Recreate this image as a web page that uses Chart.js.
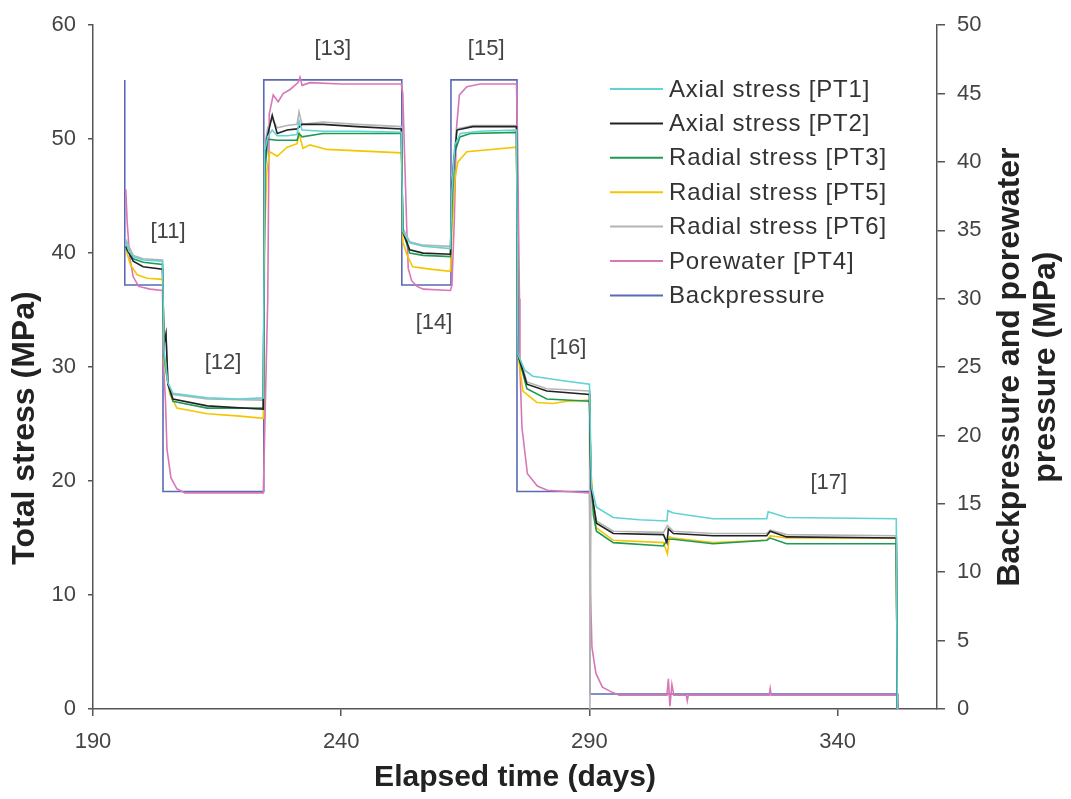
<!DOCTYPE html>
<html>
<head>
<meta charset="utf-8">
<script src="https://cdn.jsdelivr.net/npm/chart.js@4.4.1/dist/chart.umd.min.js"></script>
<style>
  html, body { margin: 0; background: #fff; }
</style>
</head>
<body>
<canvas id="myChart" width="1071" height="799"></canvas>
<script>
// tick labels on the time axis
const xTicks = [190, 240, 290, 340];

const seriesLabels = [
    'Axial stress [PT1]',
    'Axial stress [PT2]',
    'Radial stress [PT3]',
    'Radial stress [PT5]',
    'Radial stress [PT6]',
    'Porewater [PT4]',
    'Backpressure'
];

// [day, MPa], total stress on the left axis
const axialPT1 = [
    [196.6, 41.0], [197.2, 40.2], [198.1, 39.7], [200.1, 39.4], [204.0, 39.3],
    [204.3, 31.5], [205.1, 28.6], [206.1, 27.7], [213.0, 27.3], [219.6, 27.2], [224.3, 27.3],
    [224.6, 49.0], [225.2, 50.2], [226.1, 50.8], [227.1, 50.3], [229.1, 50.3], [231.1, 50.4], [231.5, 51.6], [232.1, 50.8], [236.3, 50.7], [243.2, 50.7], [252.1, 50.6],
    [252.4, 41.9], [253.8, 40.9], [256.5, 40.6], [262.0, 40.4],
    [262.3, 45.5], [262.9, 49.5], [264.0, 50.5], [268.0, 50.7], [275.3, 50.8],
    [275.6, 31.1], [277.0, 29.7], [278.6, 29.2], [284.7, 28.8], [290.0, 28.5],
    [290.4, 19.5], [291.4, 17.7], [294.8, 16.8], [300.0, 16.6], [305.6, 16.5], [305.8, 17.4], [306.9, 17.2], [314.9, 16.7], [325.7, 16.7], [326.0, 17.3], [329.7, 16.8], [351.8, 16.7], [352.0, 0]
];
const axialPT2 = [
    [196.6, 40.6], [198.1, 39.3], [200.1, 38.8], [204.0, 38.6],
    [204.3, 32.0], [204.7, 32.9], [205.1, 28.5], [206.1, 27.2], [213.0, 26.6], [224.3, 26.3],
    [224.6, 48.0], [225.0, 50.0], [226.1, 52.1], [227.1, 50.5], [229.1, 50.8], [231.1, 50.9], [232.1, 51.3], [236.3, 51.3], [243.2, 51.1], [252.1, 50.9],
    [252.4, 41.9], [253.8, 40.3], [256.5, 40.0], [262.0, 39.9],
    [262.3, 46.0], [263.3, 50.8], [266.5, 51.1], [275.3, 51.1],
    [275.6, 31.1], [277.4, 28.5], [281.4, 27.9], [290.0, 27.6],
    [290.3, 19.5], [291.4, 16.3], [294.8, 15.4], [304.9, 15.3], [305.6, 14.6], [305.9, 15.8], [306.9, 15.4], [314.9, 15.2], [325.7, 15.2], [326.4, 15.6], [329.7, 15.1], [351.8, 15.0], [352.0, 0]
];
const radialPT3 = [
    [196.6, 40.4], [198.1, 39.5], [200.1, 39.2], [204.0, 39.0],
    [204.3, 31.0], [205.1, 28.5], [206.1, 27.0], [213.0, 26.4], [224.3, 26.4],
    [224.6, 47.0], [225.2, 50.0], [227.1, 49.9], [229.1, 49.9], [231.1, 49.9], [231.5, 50.5], [232.1, 50.2], [236.3, 50.5], [243.2, 50.5], [252.1, 50.5],
    [252.4, 41.9], [253.8, 40.0], [256.5, 39.8], [262.0, 39.7],
    [262.3, 44.0], [262.9, 48.9], [263.9, 50.2], [266.0, 50.5], [275.3, 50.6],
    [275.6, 31.1], [277.4, 28.1], [281.4, 27.2], [290.0, 27.0],
    [290.3, 20.3], [290.8, 17.0], [291.4, 15.6], [294.8, 14.6], [304.9, 14.3], [305.7, 14.9], [306.9, 14.9], [314.9, 14.5], [325.7, 14.8], [326.4, 15.0], [329.7, 14.5], [351.8, 14.5], [352.0, 0]
];
const radialPT5 = [
    [196.6, 40.4], [197.5, 39.0], [198.9, 38.1], [200.9, 37.8], [204.0, 37.7],
    [204.3, 30.5], [205.5, 27.6], [206.9, 26.4], [213.0, 25.9], [219.6, 25.7], [224.3, 25.5],
    [224.6, 42.0], [225.0, 47.2], [225.6, 48.9], [227.1, 48.5], [229.1, 49.3], [231.1, 49.6], [231.5, 50.5], [232.3, 49.2], [233.7, 49.5], [237.1, 49.1], [252.1, 48.8],
    [252.4, 41.0], [253.2, 39.9], [254.4, 38.8], [257.9, 38.6], [262.0, 38.4],
    [262.3, 42.0], [262.9, 46.5], [263.5, 48.0], [265.3, 48.9], [275.3, 49.3],
    [275.6, 31.1], [276.6, 27.9], [279.4, 26.9], [282.6, 26.8], [285.5, 27.0], [290.0, 27.1],
    [290.3, 20.9], [290.8, 17.5], [291.4, 15.9], [294.8, 14.8], [304.9, 14.6], [305.7, 13.6], [306.1, 15.1], [306.9, 15.0], [314.9, 14.6], [325.7, 14.8], [326.4, 15.2], [329.7, 15.0], [351.8, 15.0], [352.0, 0]
];
const radialPT6 = [
    [196.6, 41.2], [198.1, 39.8], [200.1, 39.5], [204.0, 39.4],
    [204.3, 32.2], [204.7, 33.0], [205.1, 28.6], [206.1, 27.6], [213.0, 27.2], [224.3, 27.1],
    [224.6, 49.5], [225.2, 51.0], [226.1, 51.8], [227.1, 51.0], [229.1, 51.2], [231.1, 51.3], [231.5, 52.4], [232.1, 51.3], [236.3, 51.5], [243.2, 51.3], [252.1, 51.1],
    [252.4, 42.2], [253.8, 41.0], [256.5, 40.7], [262.0, 40.6],
    [262.3, 47.0], [263.3, 50.9], [266.5, 51.2], [275.3, 51.2],
    [275.6, 31.3], [277.4, 28.7], [281.4, 28.1], [290.0, 27.9],
    [290.1, 0], [290.3, 19.0], [291.4, 16.5], [294.8, 15.6], [304.9, 15.5], [305.7, 16.1], [306.9, 15.6], [314.9, 15.4], [325.7, 15.4], [326.4, 15.7], [329.7, 15.3], [351.8, 15.2], [352.0, 0]
];

// [day, MPa] on the right axis
const porewaterPT4 = [
    [196.6, 38.0], [196.9, 35.5], [197.4, 33.0], [198.1, 31.6], [199.2, 30.9], [201.5, 30.7], [204.0, 30.6],
    [204.2, 25.2], [204.6, 22.5], [204.9, 19.0], [205.7, 16.9], [206.9, 16.1], [208.5, 15.8], [224.3, 15.8],
    [225.2, 30.0], [225.5, 43.5], [226.3, 44.9], [227.3, 44.4], [228.3, 45.0], [229.7, 45.3], [231.3, 45.8], [231.7, 46.2], [232.1, 45.6], [233.7, 45.8], [240.0, 45.7], [252.1, 45.7],
    [252.4, 45.0], [252.8, 40.0], [253.2, 35.1], [253.5, 32.2], [254.2, 31.3], [255.3, 30.9], [256.5, 30.7], [262.0, 30.6],
    [262.3, 31.0], [262.8, 36.0], [263.2, 42.4], [263.8, 44.9], [265.3, 45.5], [268.0, 45.7], [275.3, 45.7],
    [275.5, 42.0], [275.9, 30.0], [276.0, 24.9], [276.4, 20.6], [277.5, 17.2], [279.5, 16.3], [281.5, 16.0], [290.0, 15.8],
    [290.2, 8.5], [290.5, 4.5], [291.3, 2.6], [292.6, 1.6], [294.7, 1.2], [296.0, 1.0],
    [305.6, 1.0], [305.9, 2.2], [306.2, 0.2], [306.6, 1.8], [307.0, 1.0], [309.5, 1.0], [309.7, 0.6], [309.9, 1.0],
    [326.2, 1.0], [326.4, 1.5], [326.6, 1.0], [352.0, 1.0], [352.2, 0]
];
const backpressure = [
    [196.4, 46], [196.4, 31], [204.1, 31], [204.1, 15.9], [224.4, 15.9], [224.4, 46],
    [252.2, 46], [252.2, 31], [262.1, 31], [262.1, 46], [275.4, 46], [275.4, 15.9],
    [290.1, 15.9], [290.1, 1.1], [352.1, 1.1], [352.1, 0]
];

// stage numbers written on the plot, anchored in data units (day, total stress)
const stageLabels = ['[11]', '[12]', '[13]', '[14]', '[15]', '[16]', '[17]'];
const stageDays = [205.1, 216.2, 238.3, 258.7, 269.2, 285.7, 338.2];
const stageStress = [41.9, 30.4, 57.9, 33.9, 57.9, 31.7, 19.8];

const FONT = "'Liberation Sans', Arial, Helvetica, sans-serif";

function toPoints(rows) {
    return rows.map(r => ({ x: r[0], y: r[1] }));
}

const seriesData = [axialPT1, axialPT2, radialPT3, radialPT5, radialPT6, porewaterPT4, backpressure];
const seriesColors = ['#62d2d2', '#222222', '#1e9a55', '#f4c600', '#b4b4b4', '#d877b6', '#5b69b5'];
const seriesAxis = ['y', 'y', 'y', 'y', 'y', 'y2', 'y2'];

const datasets = seriesData.map((rows, i) => ({
    label: seriesLabels[i],
    data: toPoints(rows),
    borderColor: seriesColors[i],
    backgroundColor: seriesColors[i],
    borderWidth: 1.6,
    pointRadius: 0,
    tension: 0,
    fill: false,
    yAxisID: seriesAxis[i]
}));

const overlay = {
    id: 'overlay',
    afterDraw(chart) {
        const ctx = chart.ctx;
        const xs = chart.scales.x;
        const ys = chart.scales.y;
        ctx.save();

        // stage labels
        ctx.font = '22px ' + FONT;
        ctx.fillStyle = '#444';
        ctx.textAlign = 'center';
        ctx.textBaseline = 'middle';
        for (let i = 0; i < stageLabels.length; i++) {
            ctx.fillText(stageLabels[i], xs.getPixelForValue(stageDays[i]), ys.getPixelForValue(stageStress[i]));
        }

        // legend inside the plot
        ctx.font = '24px ' + FONT;
        ctx.letterSpacing = '0.8px';
        ctx.textAlign = 'left';
        ctx.fillStyle = '#333';
        chart.data.datasets.forEach((ds, i) => {
            const y = 89 + i * 34.4;
            ctx.strokeStyle = ds.borderColor;
            ctx.lineWidth = 2;
            ctx.beginPath();
            ctx.moveTo(610, y);
            ctx.lineTo(663, y);
            ctx.stroke();
            ctx.fillText(ds.label, 669, y + 1);
        });
        ctx.letterSpacing = '0px';

        // axis titles, both reading bottom to top
        ctx.font = 'bold 32px ' + FONT;
        ctx.fillStyle = '#222';
        ctx.textAlign = 'center';

        ctx.save();
        ctx.translate(25, 428);
        ctx.rotate(-Math.PI / 2);
        ctx.fillText('Total stress (MPa)', 0, 0);
        ctx.restore();

        const midY = (chart.chartArea.top + chart.chartArea.bottom) / 2;
        ctx.translate(1010, midY);
        ctx.rotate(-Math.PI / 2);
        ctx.fillText('Backpressure and porewater', 0, 0);
        ctx.fillText('pressure (MPa)', 0, 36);
        ctx.restore();
    }
};

const ctx = document.getElementById('myChart').getContext('2d');
const myChart = new Chart(ctx, {
    type: 'line',
    data: { datasets: datasets },
    options: {
        responsive: false,
        animation: false,
        devicePixelRatio: 1,
        layout: { padding: { top: 23, left: 0, right: 0, bottom: 0 } },
        plugins: {
            legend: { display: false },
            tooltip: { enabled: false }
        },
        scales: {
            x: {
                type: 'linear',
                position: 'bottom',
                min: 190,
                max: 360,
                afterBuildTicks: (scale) => { scale.ticks = xTicks.map(v => ({ value: v })); },
                afterFit: (scale) => { scale.height = 90; },
                grid: { drawOnChartArea: false, tickLength: 7, color: '#555', lineWidth: 1.5 },
                border: { color: '#555', width: 1.5 },
                ticks: { font: { size: 22, family: FONT }, color: '#444', padding: 13, maxRotation: 0, autoSkip: false },
                title: { display: true, text: 'Elapsed time (days)', font: { size: 30, weight: 'bold', family: FONT }, color: '#222', padding: { top: 0, bottom: 3 } }
            },
            y: {
                position: 'left',
                min: 0,
                max: 60,
                ticks: { stepSize: 10, font: { size: 22, family: FONT }, color: '#444', padding: 12 },
                afterFit: (scale) => { scale.width = 93; },
                grid: { drawOnChartArea: false, tickLength: 5, color: '#555', lineWidth: 1.5 },
                border: { color: '#555', width: 1.5 }
            },
            y2: {
                position: 'right',
                min: 0,
                max: 50,
                ticks: { stepSize: 5, font: { size: 22, family: FONT }, color: '#444', padding: 12 },
                afterFit: (scale) => { scale.width = 134; },
                grid: { drawOnChartArea: false, tickLength: 8, color: '#555', lineWidth: 1.5 },
                border: { color: '#555', width: 1.5 }
            }
        }
    },
    plugins: [overlay]
});
</script>
</body>
</html>
